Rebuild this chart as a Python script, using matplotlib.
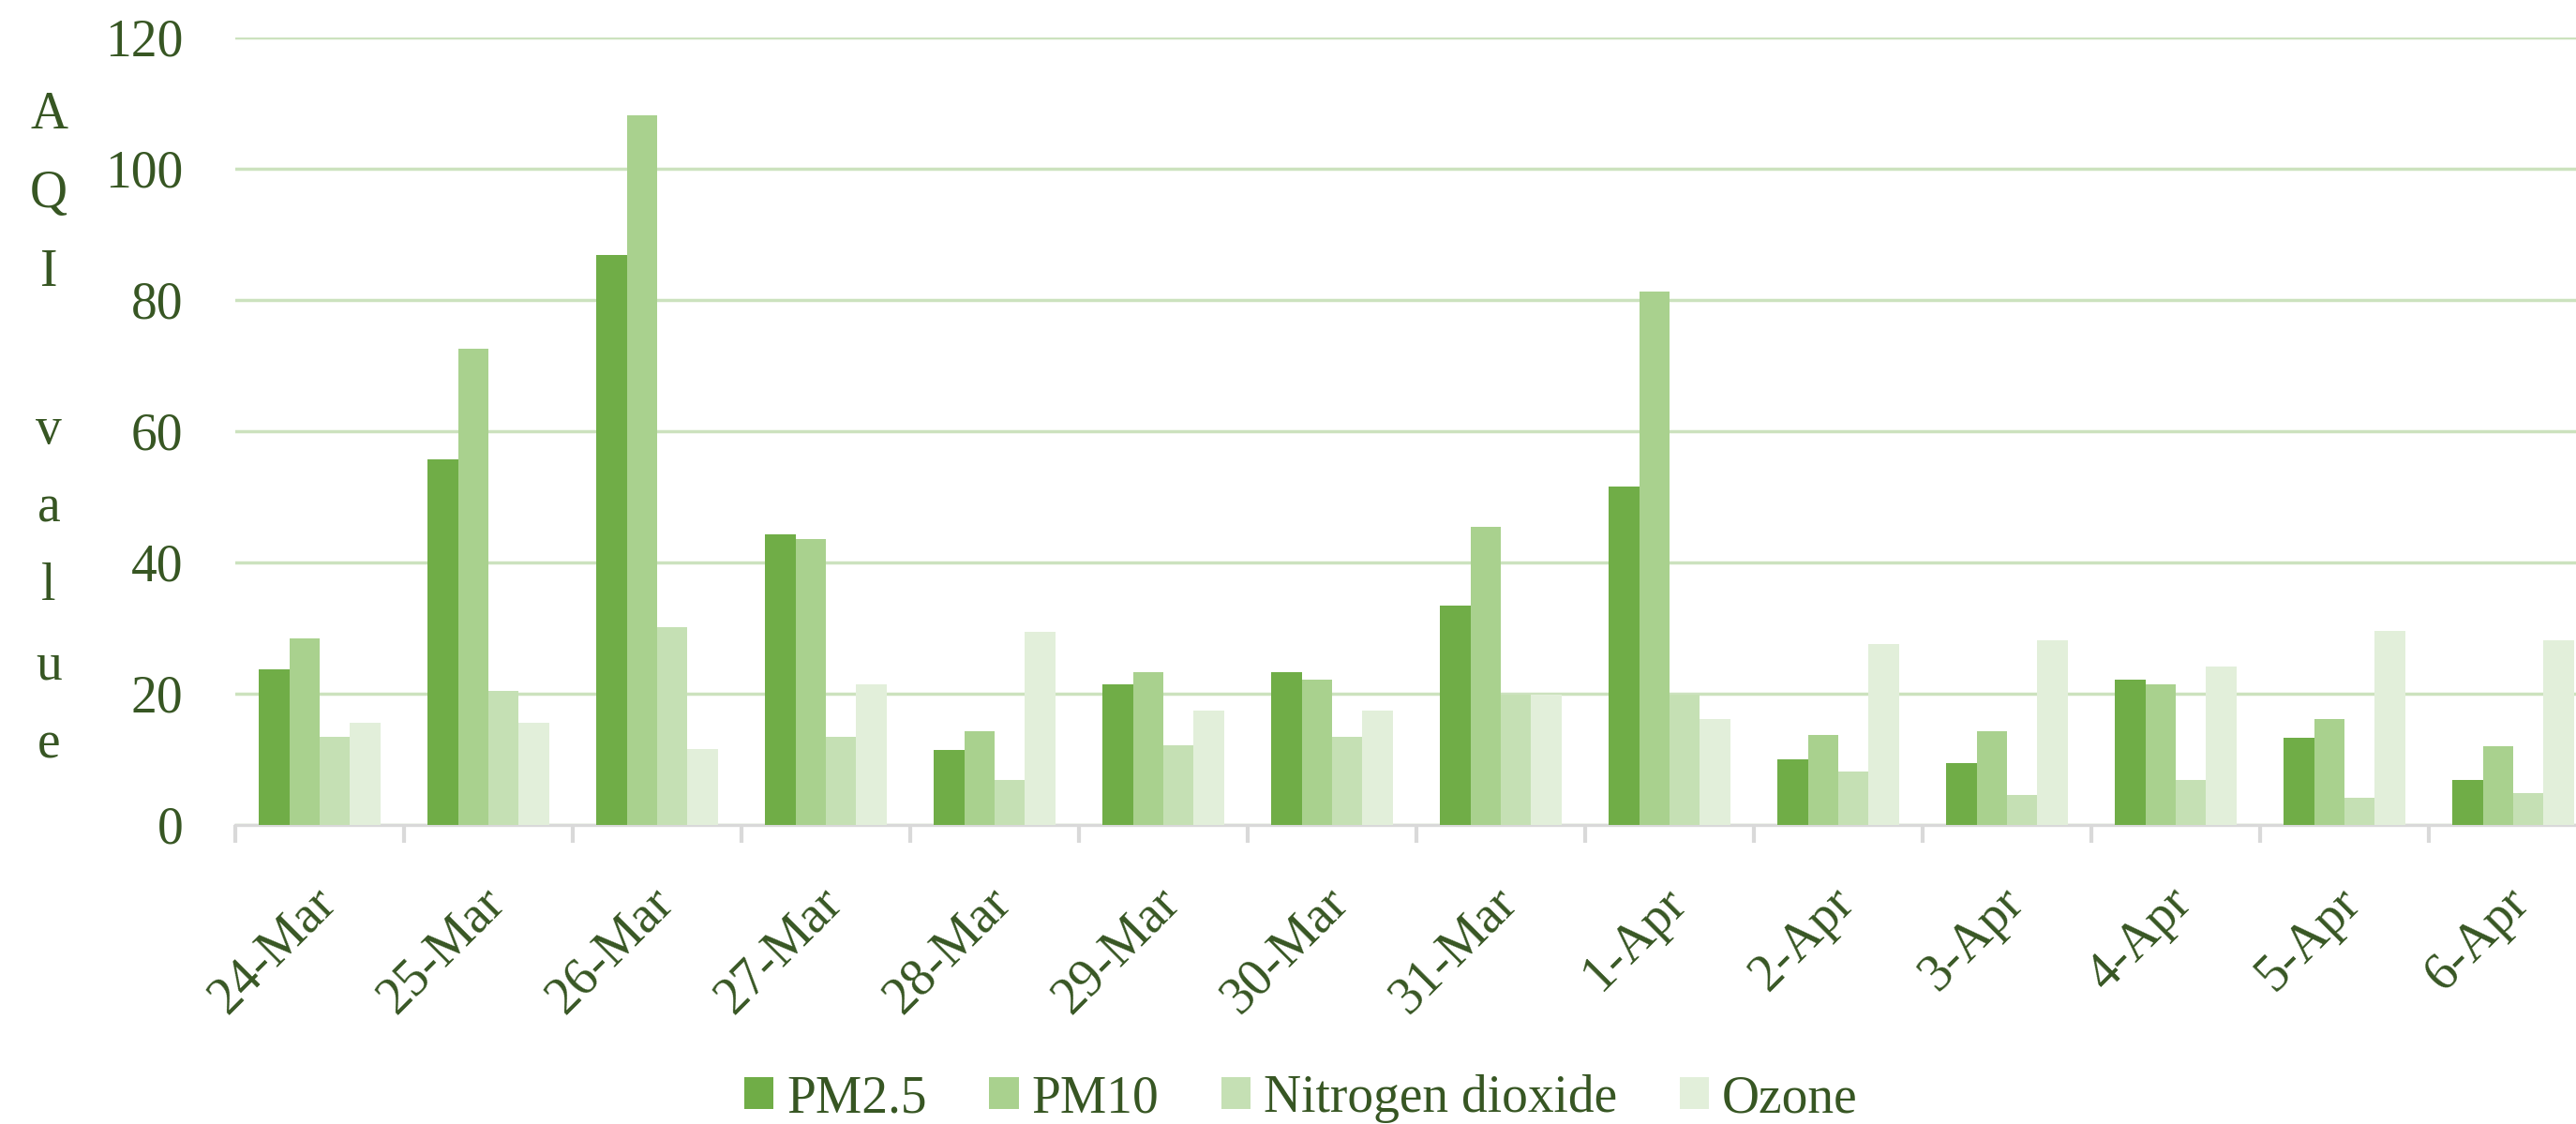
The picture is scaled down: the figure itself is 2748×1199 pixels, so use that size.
import matplotlib
matplotlib.use("Agg")
import matplotlib.pyplot as plt
import matplotlib.transforms as mtransforms
import numpy as np

# values
dates = ['24-Mar', '25-Mar', '26-Mar', '27-Mar', '28-Mar', '29-Mar', '30-Mar',
         '31-Mar', '1-Apr', '2-Apr', '3-Apr', '4-Apr', '5-Apr', '6-Apr']
pm25 = [23.7, 55.7, 86.8, 44.3, 11.5, 21.4, 23.3, 33.5, 51.6, 10.0, 9.4, 22.2, 13.3, 6.8]
pm10 = [28.5, 72.6, 108.2, 43.6, 14.3, 23.3, 22.2, 45.4, 81.3, 13.7, 14.3, 21.4, 16.1, 12.0]
no2 = [13.5, 20.4, 30.2, 13.4, 6.8, 12.1, 13.4, 19.8, 19.8, 8.1, 4.6, 6.8, 4.2, 4.8]
ozone = [15.6, 15.6, 11.6, 21.4, 29.5, 17.4, 17.4, 19.8, 16.2, 27.6, 28.1, 24.2, 29.6, 28.2]

series_names = ['PM2.5', 'PM10', 'Nitrogen dioxide', 'Ozone']
colors = ['#70AD47', '#A9D18E', '#C5E0B4', '#E2EFDA']
yticks = [0, 20, 40, 60, 80, 100, 120]

text_col = '#375623'
font = 'Liberation Serif'

fig = plt.figure(figsize=(27.48, 11.99), dpi=100)
# right edge of the plot runs slightly past the picture, as in the original crop
ax = fig.add_axes([251 / 2748, 319 / 1199, 2520 / 2748, 840 / 1199])

x = np.arange(len(dates))
bw = 0.18
for k, (vals, name, c) in enumerate(zip([pm25, pm10, no2, ozone], series_names, colors)):
    ax.bar(x + (k - 1.5) * bw, vals, bw, color=c, label=name, zorder=3)

ax.set_xlim(-0.5, len(dates) - 0.5)
ax.set_ylim(0, 120)
ax.set_yticks(yticks)
ax.yaxis.grid(True, color='#CCE2BE', linewidth=2.5, zorder=0)
ax.set_axisbelow(True)

for s in ['top', 'right', 'left']:
    ax.spines[s].set_visible(False)
ax.spines['bottom'].set_color('#D9D9D9')
ax.spines['bottom'].set_linewidth(2.4)

ax.tick_params(axis='y', length=0, pad=40, labelsize=40, labelcolor=text_col)
for t in ax.get_yticklabels():
    t.set_fontfamily(font)

ax.set_xticks(x)
ax.set_xticklabels(dates, rotation=45, ha='right', va='center',
                   rotation_mode='anchor', fontsize=40, color=text_col, fontfamily=font)
ax.tick_params(axis='x', which='major', length=0, pad=54)
shift = mtransforms.ScaledTranslation(0.09, 0, fig.dpi_scale_trans)
for t in ax.get_xticklabels():
    t.set_transform(t.get_transform() + shift)
ax.set_xticks(np.arange(len(dates) + 1) - 0.5, minor=True)
ax.tick_params(axis='x', which='minor', length=14, width=3, color='#D9D9D9')

# stacked letters for the y axis title
ylab = ['A', 'Q', 'I', '', 'v', 'a', 'l', 'u', 'e']
for i, ch in enumerate(ylab):
    ypix = 123 + i * 83.9
    fig.text(52 / 2748, 1 - ypix / 1199, ch, ha='center', va='center',
             fontsize=40, color=text_col, fontfamily=font)

leg = ax.legend(loc='center', bbox_to_anchor=(0.505, 0.0225), bbox_transform=fig.transFigure,
                ncol=4, frameon=False, borderpad=0, handlelength=0.56, handleheight=0.56,
                handletextpad=0.25, columnspacing=1.2,
                prop={'family': font, 'size': 40})
for t in leg.get_texts():
    t.set_color(text_col)

fig.savefig('out.png', dpi=100)
